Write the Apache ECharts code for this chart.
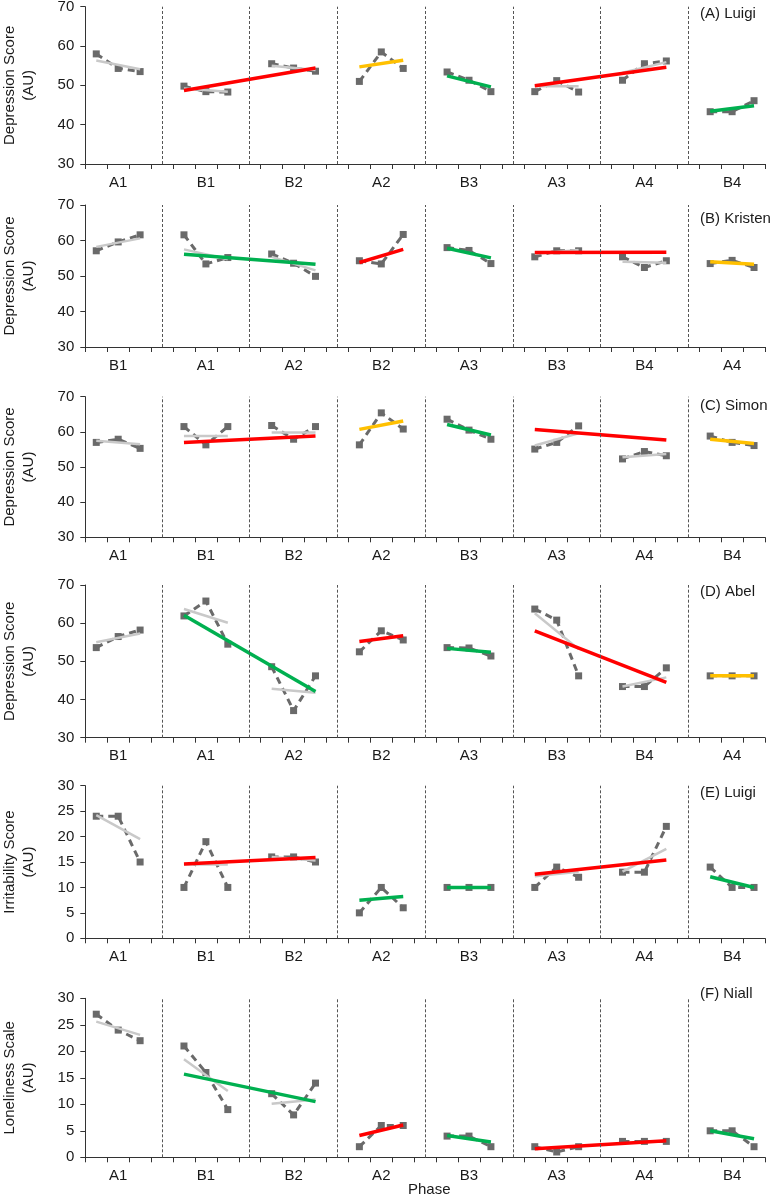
<!DOCTYPE html>
<html><head><meta charset="utf-8">
<script src="https://cdn.jsdelivr.net/npm/echarts@6/dist/echarts.min.js"></script>
<style>html,body{margin:0;padding:0;background:#fff}#c{width:775px;height:1199px}</style>
</head><body><div id="c"></div>
<script>
// ---------- DATA ----------
const yTicksDepression = [30, 40, 50, 60, 70];
const yTicksSmall = [0, 5, 10, 15, 20, 25, 30];

// (A) Luigi – depression
const titleA = '(A) Luigi';
const yNameA = 'Depression Score\n(AU)';
const phasesA = ['A1','B1','B2','A2','B3','A3','A4','B4'];
const scoresA = [58.0,54.3,53.5, 49.8,48.4,48.3, 55.5,54.4,53.6, 51.0,58.5,54.3, 53.4,51.3,48.4, 48.4,51.2,48.3, 51.3,55.5,56.2, 43.3,43.3,46.1];
const phaseTrendA = [[56.3,54.1],[49.2,48.4],[55.0,53.9],null,null,[49.8,49.8],[53.2,55.9],null];
const spanTrendA = [['B1','B2',48.7,54.4,'red'],['A2','A2',54.7,56.4,'amber'],['B3','B3',52.4,49.6,'green'],['A3','A4',49.9,54.6,'red'],['B4','B4',43.4,44.8,'green']];

// (B) Kristen – depression
const titleB = '(B) Kristen';
const yNameB = 'Depression Score\n(AU)';
const phasesB = ['B1','A1','A2','B2','A3','B3','B4','A4'];
const scoresB = [57.1,59.6,61.6, 61.6,53.4,55.2, 56.2,53.6,49.9, 54.3,53.4,61.7, 58.0,57.2,53.5, 55.4,57.1,57.1, 55.4,52.4,54.3, 53.5,54.4,52.4];
const phaseTrendB = [[58.2,60.6],[57.5,54.7],[55.4,51.6],null,null,[56.3,57.3],[54.0,53.7],null];
const spanTrendB = [['A1','A2',56.1,53.3,'green'],['B2','B2',53.8,57.5,'red'],['A3','A3',57.8,55.1,'green'],['B3','B4',56.6,56.7,'red'],['A4','A4',54.0,53.3,'amber']];

// (C) Simon – depression
const titleC = '(C) Simon';
const yNameC = 'Depression Score\n(AU)';
const phasesC = ['A1','B1','B2','A2','B3','A3','A4','B4'];
const scoresC = [57.0,57.9,55.3, 61.5,56.3,61.5, 61.8,57.9,61.5, 56.3,65.4,60.8, 63.6,60.5,57.9, 55.1,57.0,61.7, 52.3,54.4,53.2, 58.8,57.0,56.1];
const phaseTrendC = [[57.5,56.5],[58.8,58.8],[59.8,59.8],null,null,[56.1,59.6],[52.8,53.7],null];
const spanTrendC = [['B1','B2',57.0,58.8,'red'],['A2','A2',60.7,63.1,'amber'],['B3','B3',62.1,59.1,'green'],['A3','A4',60.7,57.7,'red'],['B4','B4',57.9,56.7,'amber']];

// (D) Abel – depression
const titleD = '(D) Abel';
const yNameD = 'Depression Score\n(AU)';
const phasesD = ['B1','A1','A2','B2','A3','B3','B4','A4'];
const scoresD = [53.6,56.5,58.2, 61.9,65.8,54.5, 48.6,37.1,46.2, 52.5,58.0,55.6, 53.6,53.5,51.4, 63.7,60.8,46.2, 43.4,43.4,48.3, 46.2,46.2,46.2];
const phaseTrendD = [[55.0,57.3],[63.7,60.1],[42.8,41.8],null,null,[62.6,53.2],[43.4,45.8],null];
const spanTrendD = [['A1','A2',62.1,42.1,'green'],['B2','B2',55.2,56.7,'red'],['A3','A3',53.4,52.4,'green'],['B3','B4',58.0,44.5,'red'],['A4','A4',46.2,46.2,'amber']];

// (E) Luigi – irritability
const titleE = '(E) Luigi';
const yNameE = 'Irritability Score\n(AU)';
const phasesE = ['A1','B1','B2','A2','B3','A3','A4','B4'];
const scoresE = [24,24,15, 10,19,10, 16,16,15, 5,10,6, 10,10,10, 10,14,12, 13,13,22, 14,10,10];
const phaseTrendE = [[24.2,19.5],[14.5,14.5],[16.0,15.3],null,null,[12.2,13.1],[13.1,17.6],null];
const spanTrendE = [['B1','B2',14.6,15.9,'red'],['A2','A2',7.5,8.2,'green'],['B3','B3',10,10,'green'],['A3','A4',12.6,15.4,'red'],['B4','B4',12.1,10.0,'green']];

// (F) Niall – loneliness
const titleF = '(F) Niall';
const yNameF = 'Loneliness Scale\n(AU)';
const phasesF = ['A1','B1','B2','A2','B3','A3','A4','B4'];
const scoresF = [27,24,22, 21,16,9, 12,8,14, 2,6,6, 4,4,2, 2,1,2, 3,3,3, 5,5,2];
const phaseTrendF = [[25.6,23.1],[18.5,12.5],[10.1,10.9],null,null,null,null,null];
const spanTrendF = [['B1','B2',15.7,10.5,'green'],['A2','A2',4.1,6.1,'red'],['B3','B3',4.1,2.9,'green'],['A3','A4',1.6,3.1,'red'],['B4','B4',5.0,3.5,'green']];

const xAxisTitle = 'Phase';

// ---------- LAYOUT / STYLE ----------
const panels = [
  {title: titleA, yName: yNameA, phases: phasesA, scores: scoresA, phaseTrend: phaseTrendA, spanTrend: spanTrendA, ticks: yTicksDepression},
  {title: titleB, yName: yNameB, phases: phasesB, scores: scoresB, phaseTrend: phaseTrendB, spanTrend: spanTrendB, ticks: yTicksDepression},
  {title: titleC, yName: yNameC, phases: phasesC, scores: scoresC, phaseTrend: phaseTrendC, spanTrend: spanTrendC, ticks: yTicksDepression},
  {title: titleD, yName: yNameD, phases: phasesD, scores: scoresD, phaseTrend: phaseTrendD, spanTrend: spanTrendD, ticks: yTicksDepression},
  {title: titleE, yName: yNameE, phases: phasesE, scores: scoresE, phaseTrend: phaseTrendE, spanTrend: spanTrendE, ticks: yTicksSmall},
  {title: titleF, yName: yNameF, phases: phasesF, scores: scoresF, phaseTrend: phaseTrendF, spanTrend: spanTrendF, ticks: yTicksSmall}
];
const gridTops = [6.7, 205, 396.7, 585, 785.7, 998.3];
const gridHeights = [157.3, 142, 140.6, 152.7, 152.6, 159];
const titleY = [15, 220, 407, 593, 794, 995];
const GRID_LEFT = 85.3, GRID_RIGHT = 10;
const FONT = '"Liberation Sans", Arial, Helvetica, sans-serif';
const TREND_COLORS = {red: '#ff0000', green: '#00b050', amber: '#ffc000'};
const TEXT = '#1a1a1a';

const option = {
  animation: false,
  backgroundColor: '#fff',
  textStyle: {fontFamily: FONT},
  grid: [], xAxis: [], yAxis: [], series: [], graphic: []
};

panels.forEach((pn, gi) => {
  const cats = [];
  const vals = [];
  const gaps = [];
  pn.phases.forEach((ph, p) => {
    for (let k = 0; k < 3; k++) { cats.push(ph + '|' + k); vals.push(pn.scores[p * 3 + k]); }
    if (p < pn.phases.length - 1) { cats.push(ph + '|gap'); vals.push(null); gaps.push(ph + '|gap'); }
  });
  option.grid.push({left: GRID_LEFT, right: GRID_RIGHT, top: gridTops[gi], height: gridHeights[gi],
    containLabel: false, outerBoundsMode: 'none'});
  option.xAxis.push({
    type: 'category', gridIndex: gi, data: cats, boundaryGap: true,
    axisLine: {show: true, lineStyle: {color: '#333', width: 1}},
    axisTick: {show: true, interval: 0, alignWithLabel: false, length: 5, lineStyle: {color: '#333'}},
    axisLabel: {show: true, interval: 0, margin: 11, fontSize: 15, color: TEXT, fontFamily: FONT,
      formatter: v => v.endsWith('|1') ? v.split('|')[0] : ''},
    splitLine: {show: false}
  });
  const t = pn.ticks;
  option.yAxis.push({
    type: 'value', gridIndex: gi, min: t[0], max: t[t.length - 1], interval: t[1] - t[0],
    name: pn.yName, nameLocation: 'middle', nameRotate: 90, nameGap: 47,
    nameTextStyle: {fontSize: 15, color: TEXT, fontFamily: FONT, lineHeight: 19},
    axisLine: {show: true, lineStyle: {color: '#333', width: 1}},
    axisTick: {show: true, length: 5, lineStyle: {color: '#333'}},
    axisLabel: {fontSize: 15, color: TEXT, margin: 11, fontFamily: FONT},
    splitLine: {show: false}
  });
  // observed scores
  option.series.push({
    type: 'line', xAxisIndex: gi, yAxisIndex: gi, data: vals, connectNulls: false,
    symbol: 'rect', symbolSize: 7, itemStyle: {color: '#6a6a6a'},
    lineStyle: {color: '#6a6a6a', width: 3, type: [7, 5]}, z: 2,
    markLine: {silent: true, symbol: ['none', 'none'], label: {show: false},
      lineStyle: {color: '#555', width: 1, type: [3, 2]},
      data: gaps.map(g => ({xAxis: g}))}
  });
  // per-phase trend lines (light grey)
  pn.phaseTrend.forEach((tr, p) => {
    if (!tr) return;
    option.series.push({
      type: 'line', xAxisIndex: gi, yAxisIndex: gi, symbol: 'none', z: 3,
      lineStyle: {color: '#c9c9c9', width: 2.5},
      data: [[p * 4, tr[0]], [p * 4 + 2, tr[1]]]
    });
  });
  // coloured trend lines
  pn.spanTrend.forEach(st => {
    const i = pn.phases.indexOf(st[0]), j = pn.phases.indexOf(st[1]);
    option.series.push({
      type: 'line', xAxisIndex: gi, yAxisIndex: gi, symbol: 'none', z: 4,
      lineStyle: {color: TREND_COLORS[st[4]], width: 3.5},
      data: [[i * 4, st[2]], [j * 4 + 2, st[3]]]
    });
  });
  option.graphic.push({type: 'text', left: 700, top: titleY[gi] - 9,
    style: {text: pn.title, fill: TEXT, font: '15px ' + FONT}});
});
option.graphic.push({type: 'text', left: 408, top: 1182,
  style: {text: xAxisTitle, fill: TEXT, font: '15px ' + FONT}});

const chart = echarts.init(document.getElementById('c'), null, {renderer: 'canvas'});
chart.setOption(option);
</script></body></html>
